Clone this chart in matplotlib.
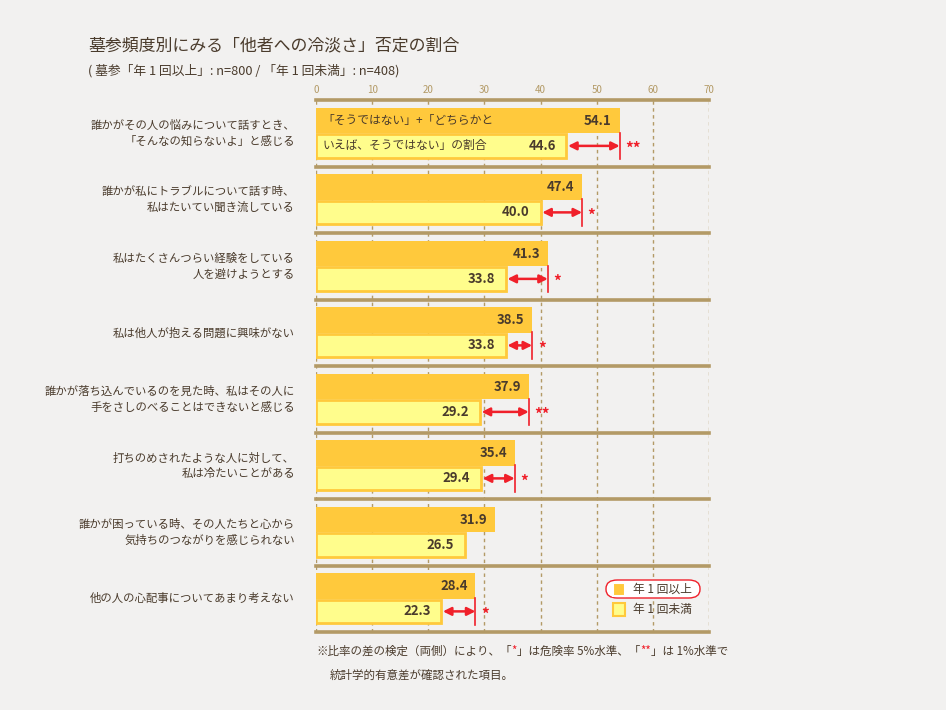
import matplotlib
matplotlib.use("Agg")
import matplotlib.pyplot as plt
from matplotlib.patches import FancyBboxPatch, Rectangle

# ─── DATA ─────────────────────────────────────────────────────────────────────
items = [
    "誰かがその人の悩みについて話すとき、\n「そんなの知らないよ」と感じる",
    "誰かが私にトラブルについて話す時、\n私はたいてい聞き流している",
    "私はたくさんつらい経験をしている\n人を避けようとする",
    "私は他人が抱える問題に興味がない",
    "誰かが落ち込んでいるのを見た時、私はその人に\n手をさしのべることはできないと感じる",
    "打ちのめされたような人に対して、\n私は冷たいことがある",
    "誰かが困っている時、その人たちと心から\n気持ちのつながりを感じられない",
    "他の人の心配事についてあまり考えない",
]
yearly   = [54.1, 47.4, 41.3, 38.5, 37.9, 35.4, 31.9, 28.4]   # 年1回以上
lessthan = [44.6, 40.0, 33.8, 33.8, 29.2, 29.4, 26.5, 22.3]   # 年1回未満
signif   = ["**", "*", "*", "*", "**", "*", "", "*"]
ticks    = [0, 10, 20, 30, 40, 50, 60, 70]

# ─── STYLE ────────────────────────────────────────────────────────────────────
BG     = "#F2F1F0"
ORANGE = "#FFC93C"
YELLOW = "#FFFD8C"
BROWN  = "#B39A66"
TEXT   = "#4A3B2C"
RED    = "#F0202A"

plt.rcParams["font.family"] = ["Noto Sans CJK JP", "DejaVu Sans"]

W, H = 946, 710
fig = plt.figure(figsize=(W / 100, H / 100), dpi=100, facecolor=BG)

def fx(px):
    return px / W

def fy(py):
    return 1 - py / H

ax = fig.add_axes([fx(316), fy(632), fx(709) - fx(316), fy(100) - fy(632)])
ax.set_facecolor(BG)
ax.set_xlim(0, 70)
ax.set_ylim(len(items), 0)
for s in ax.spines.values():
    s.set_visible(False)
ax.set_xticks([])
ax.set_yticks([])

# grid
for t in ticks:
    ax.axvline(t, color=BROWN, lw=1, ls=(0, (2.5, 2.5)), zorder=1)
for i in range(len(items) + 1):
    ax.axhline(i, color=BROWN, lw=2.6, zorder=2, clip_on=False)

for i in range(len(items)):
    y1 = i + 0.31
    y2 = i + 0.69
    ax.barh(y1, yearly[i], height=0.38, color=ORANGE, zorder=3)
    ax.barh(y2, lessthan[i], height=0.35, color=YELLOW, edgecolor=ORANGE,
            linewidth=2, zorder=3)
    ax.text(yearly[i] - 1.4, y1, f"{yearly[i]:.1f}", ha="right", va="center",
            fontsize=9.5, fontweight="bold", color=TEXT, zorder=4)
    ax.text(lessthan[i] - 1.9, y2, f"{lessthan[i]:.1f}", ha="right", va="center",
            fontsize=9.5, fontweight="bold", color=TEXT, zorder=4)
    if signif[i]:
        ax.annotate("", xy=(lessthan[i] + 0.3, y2), xytext=(yearly[i], y2),
                    arrowprops=dict(arrowstyle="<|-|>", color=RED, lw=1.8,
                                    mutation_scale=12, shrinkA=0, shrinkB=0),
                    zorder=5)
        ax.plot([yearly[i], yearly[i]], [y2 - 0.2, y2 + 0.2], color=RED,
                lw=1.2, zorder=5)
        ax.text(yearly[i] + 1.0, y2 + 0.05, signif[i], ha="left", va="center",
                fontsize=11, fontweight="bold", color=RED, zorder=5)

# note inside first bars
ax.text(1.2, 0.31, "「そうではない」+「どちらかと", ha="left", va="center",
        fontsize=8.5, color=TEXT, zorder=4)
ax.text(1.2, 0.69, "いえば、そうではない」の割合", ha="left", va="center",
        fontsize=8.5, color=TEXT, zorder=4)

# tick labels on top
for t in ticks:
    fig.text(fx(316 + t * 393 / 70), fy(90), str(t), ha="center", va="center",
             fontsize=7, color=BROWN)

# row labels
for i, lab in enumerate(items):
    fig.text(fx(295), fy(100 + (i + 0.5) * 66.5), lab, ha="right", va="center",
             fontsize=8.2, color=TEXT, linespacing=1.5)

# titles
fig.text(fx(88), fy(45), "墓参頻度別にみる「他者への冷淡さ」否定の割合",
         ha="left", va="center", fontsize=12.2, color=TEXT)
fig.text(fx(88), fy(71),
         "( 墓参「年 1 回以上」: n=800 / 「年 1 回未満」: n=408)",
         ha="left", va="center", fontsize=9.2, color=TEXT)

# legend
fig.patches.append(FancyBboxPatch((fx(606), fy(598)), fx(700) - fx(606),
                                  fy(580) - fy(598),
                                  boxstyle="round,pad=0,rounding_size=0.012",
                                  transform=fig.transFigure, facecolor="white",
                                  edgecolor=RED, lw=1))
fig.patches.append(Rectangle((fx(613), fy(596)), fx(12), fy(0) - fy(13),
                             transform=fig.transFigure, facecolor=ORANGE,
                             edgecolor="white", lw=1.5))
fig.patches.append(Rectangle((fx(613), fy(616)), fx(12), fy(0) - fy(13),
                             transform=fig.transFigure, facecolor=YELLOW,
                             edgecolor=ORANGE, lw=1.5))
fig.text(fx(633), fy(589), "年 1 回以上", ha="left", va="center",
         fontsize=8.5, color=TEXT)
fig.text(fx(633), fy(609), "年 1 回未満", ha="left", va="center",
         fontsize=8.5, color=TEXT)

# footnote, with red stars drawn piece by piece
pieces = [("※比率の差の検定（両側）により、「", TEXT), ("*", RED),
          ("」は危険率 5%水準、「", TEXT), ("**", RED), ("」は 1%水準で", TEXT)]
renderer = fig.canvas.get_renderer()
x = fx(316)
for s, c in pieces:
    t = fig.text(x, fy(651), s, ha="left", va="center", fontsize=8.3, color=c)
    bb = t.get_window_extent(renderer=renderer)
    x = bb.x1 / W
fig.text(fx(330), fy(675), "統計学的有意差が確認された項目。",
         ha="left", va="center", fontsize=8.3, color=TEXT)

fig.savefig("out.png", dpi=100, facecolor=BG)
